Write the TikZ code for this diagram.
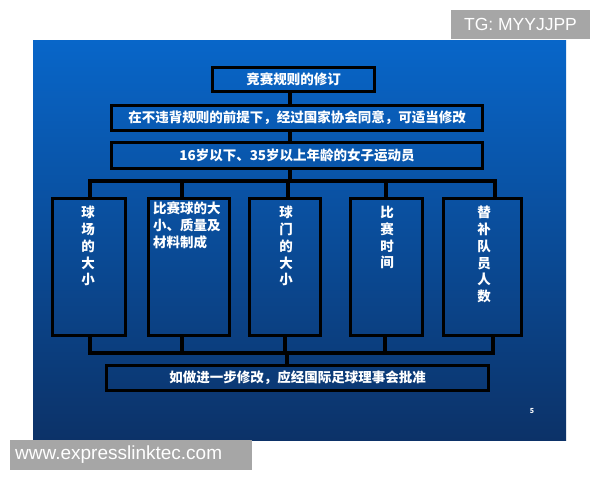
\documentclass[tikz,border=0pt]{standalone}
\usepackage{fontspec}
\setmainfont{Noto Sans CJK SC}
\newfontfamily\wmfont{Liberation Sans}
\usetikzlibrary{calc}
\definecolor{slidetop}{RGB}{8,102,201}
\definecolor{slidemid}{RGB}{12,88,186}
\definecolor{slidebot}{RGB}{12,50,104}
\definecolor{wmgray}{RGB}{166,166,166}
\tikzset{>=latex}
\tikzstyle{rulebox}=[rectangle,draw=black,line width=3.5pt,inner sep=0pt]
\tikzstyle{ruletext}=[text=white,font=\fontsize{13.5}{16.8}\selectfont\bfseries,inner sep=0pt]
\tikzstyle{link}=[draw=black,line width=3.5pt]
\tikzstyle{wmbox}=[rectangle,fill=wmgray,inner sep=0pt,text=white,font=\wmfont]

\begin{document}
\begin{tikzpicture}[x=1pt,y=-1pt]
	\def \trunk {290};
	\def \busup {181};
	\def \buslow {353};
	\def \boxtop {197};
	\def \boxmid {267};
	\def \boxh {137};
	\useasboundingbox[fill=white] (0,0) rectangle (600,480);
	\shade[top color=slidetop, middle color=slidemid, bottom color=slidebot] (33,40) rectangle (566,440);

	\node[rulebox, minimum width=162pt, minimum height=24pt] (title) at (293.5,79.5) {};
	\node[rulebox, minimum width=371pt, minimum height=25pt] (cond) at (297,118) {};
	\node[rulebox, minimum width=371pt, minimum height=26pt] (who) at (297,155.5) {};
	\node[rulebox, minimum width=382pt, minimum height=25pt] (note) at (297.5,378) {};

	\node[ruletext] (titlelab) at (title) {竞赛规则的修订};
	\node[ruletext] (condlab) at (cond) {在不违背规则的前提下，经过国家协会同意，可适当修改};
	\node[ruletext] (wholab) at (who) {16岁以下、35岁以上年龄的女子运动员};
	\node[ruletext] (notelab) at (note) {如做进一步修改，应经国际足球理事会批准};

	\node[rulebox, minimum width=73pt, minimum height=\boxh pt] (field) at (89,\boxmid) {};
	\node[rulebox, minimum width=81pt, minimum height=\boxh pt] (ball) at (189,\boxmid) {};
	\node[rulebox, minimum width=71pt, minimum height=\boxh pt] (goal) at (285,\boxmid) {};
	\node[rulebox, minimum width=72pt, minimum height=\boxh pt] (time) at (386.5,\boxmid) {};
	\node[rulebox, minimum width=78pt, minimum height=\boxh pt] (subs) at (482.5,\boxmid) {};

	\node[ruletext, anchor=north, align=center] (fieldlab) at (88,206) {球\\场\\的\\大\\小};
	\node[ruletext, anchor=north west, align=left] (balllab) at (153,202) {比赛球的大\\小、质量及\\材料制成};
	\node[ruletext, anchor=north, align=center] (goallab) at (286,206) {球\\门\\的\\大\\小};
	\node[ruletext, anchor=north, align=center] (timelab) at (387,206) {比\\赛\\时\\间};
	\node[ruletext, anchor=north, align=center] (subslab) at (484,206) {替\\补\\队\\员\\人\\数};

	\coordinate (hub) at (\trunk,\busup);
	\coordinate (u1) at (90,\busup);
	\coordinate (u2) at (182,\busup);
	\coordinate (u3) at (288,\busup);
	\coordinate (u4) at (386,\busup);
	\coordinate (u5) at (495,\busup);
	\coordinate (d1) at (90,\buslow);
	\coordinate (d2) at (182,\buslow);
	\coordinate (d3) at (285,\buslow);
	\coordinate (d4) at (385,\buslow);
	\coordinate (d5) at (493,\buslow);
	\coordinate (drop) at (287,\buslow);

	\draw[link] (title.south -| hub) -- (cond.north -| hub);
	\draw[link] (cond.south -| hub) -- (who.north -| hub);
	\draw[link] (who.south -| hub) -- (hub);
	\draw[link, line cap=rect] (u1) -- (u5);
	\draw[link] (u1) -- (u1 |- field.north);
	\draw[link] (u2) -- (u2 |- ball.north);
	\draw[link] (u3) -- (u3 |- goal.north);
	\draw[link] (u4) -- (u4 |- time.north);
	\draw[link] (u5) -- (u5 |- subs.north);

	\draw[link, line cap=rect] (d1) -- (d5);
	\draw[link] (field.south -| d1) -- (d1);
	\draw[link] (ball.south -| d2) -- (d2);
	\draw[link] (goal.south -| d3) -- (d3);
	\draw[link] (time.south -| d4) -- (d4);
	\draw[link] (subs.south -| d5) -- (d5);
	\draw[link] (drop) -- (drop |- note.north);

	\node[text=white, font=\fontsize{7}{8}\selectfont\bfseries] (page) at (532,411) {5};

	\node[wmbox, minimum width=139pt, minimum height=29pt, font=\wmfont\fontsize{17.5}{19}\selectfont] (tg) at (520.5,24.5) {TG: MYYJJPP};
	\node[wmbox, minimum width=242pt, minimum height=30pt] (site) at (131,455) {};
	\node[text=white, anchor=west, inner sep=0pt, font=\wmfont\fontsize{19}{21}\selectfont] (sitelab) at (15,455) {www.expresslinktec.com};
\end{tikzpicture}
\end{document}
